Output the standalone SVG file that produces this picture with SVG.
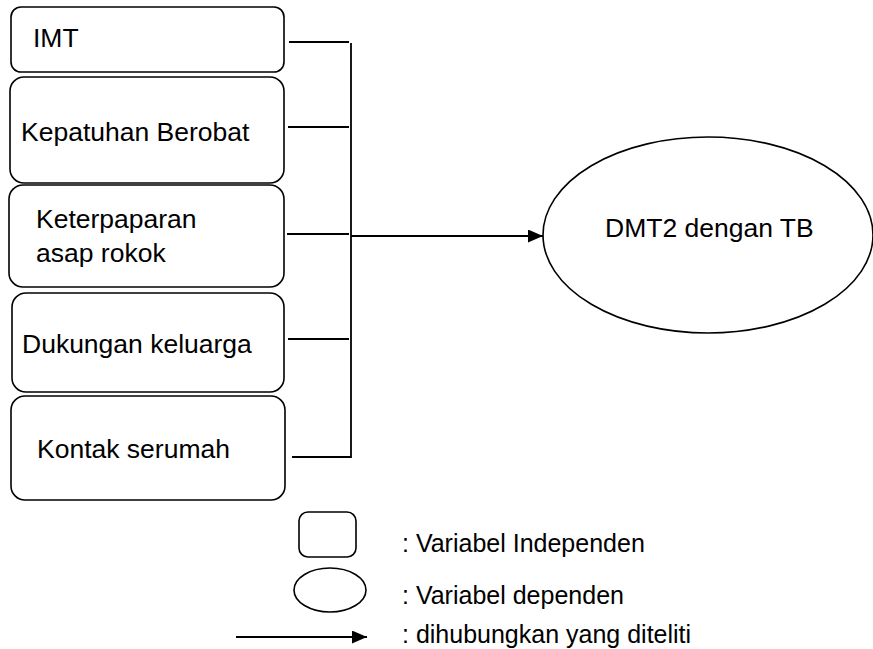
<svg xmlns="http://www.w3.org/2000/svg" width="873" height="649" viewBox="0 0 873 649">
<style>
.box{fill:#fff;stroke:#000;stroke-width:1.6}
.ell{fill:#fff;stroke:#000;stroke-width:1.6}
.ln{fill:none;stroke:#000;stroke-width:1.8}
text{font-family:"Liberation Sans",Arial,sans-serif;font-size:26.5px;fill:#000}
.lg{font-size:25px}
</style>
<defs>
<marker id="ah" markerWidth="15" markerHeight="13" refX="15" refY="6.5" orient="auto" markerUnits="userSpaceOnUse">
<path d="M0,0 L15,6.5 L0,13 Z" fill="#000"/>
</marker>
</defs>
<rect width="873" height="649" fill="#fff"/>
<g id="n1"><rect class="box" x="11" y="7" width="273" height="65" rx="10"/><text x="33" y="47">IMT</text></g>
<g id="n2"><rect class="box" x="10" y="77" width="274" height="106" rx="14"/><text x="21" y="141">Kepatuhan Berobat</text></g>
<g id="n3"><rect class="box" x="9" y="185" width="275" height="102" rx="14"/><text x="36" y="228">Keterpaparan</text><text x="36" y="262">asap rokok</text></g>
<g id="n4"><rect class="box" x="12" y="293" width="272" height="99" rx="14"/><text x="22" y="353">Dukungan keluarga</text></g>
<g id="n5"><rect class="box" x="11" y="396" width="274" height="104" rx="14"/><text x="37" y="458">Kontak serumah</text></g>
<g id="dep"><ellipse class="ell" cx="708" cy="235" rx="165" ry="98"/><text x="605" y="237">DMT2 dengan TB</text></g>
<g id="connectors">
<line class="ln" x1="289" y1="42" x2="349" y2="42"/>
<line class="ln" x1="288" y1="127" x2="349" y2="127"/>
<line class="ln" x1="287" y1="234" x2="349" y2="234"/>
<line class="ln" x1="288" y1="339" x2="349" y2="339"/>
<line class="ln" x1="292" y1="457" x2="351" y2="457"/>
<line class="ln" x1="351" y1="43" x2="351" y2="458"/>
<line class="ln" x1="351" y1="236" x2="543" y2="236" marker-end="url(#ah)"/>
</g>
<g id="legend">
<rect class="box" x="299" y="512" width="57" height="45" rx="9"/>
<ellipse class="ell" cx="330" cy="590" rx="36" ry="22"/>
<line class="ln" x1="236" y1="637" x2="367" y2="637" marker-end="url(#ah)"/>
<text class="lg" x="402" y="552">: Variabel Independen</text>
<text class="lg" x="402" y="604">: Variabel dependen</text>
<text class="lg" x="402" y="643">: dihubungkan yang diteliti</text>
</g>
</svg>
